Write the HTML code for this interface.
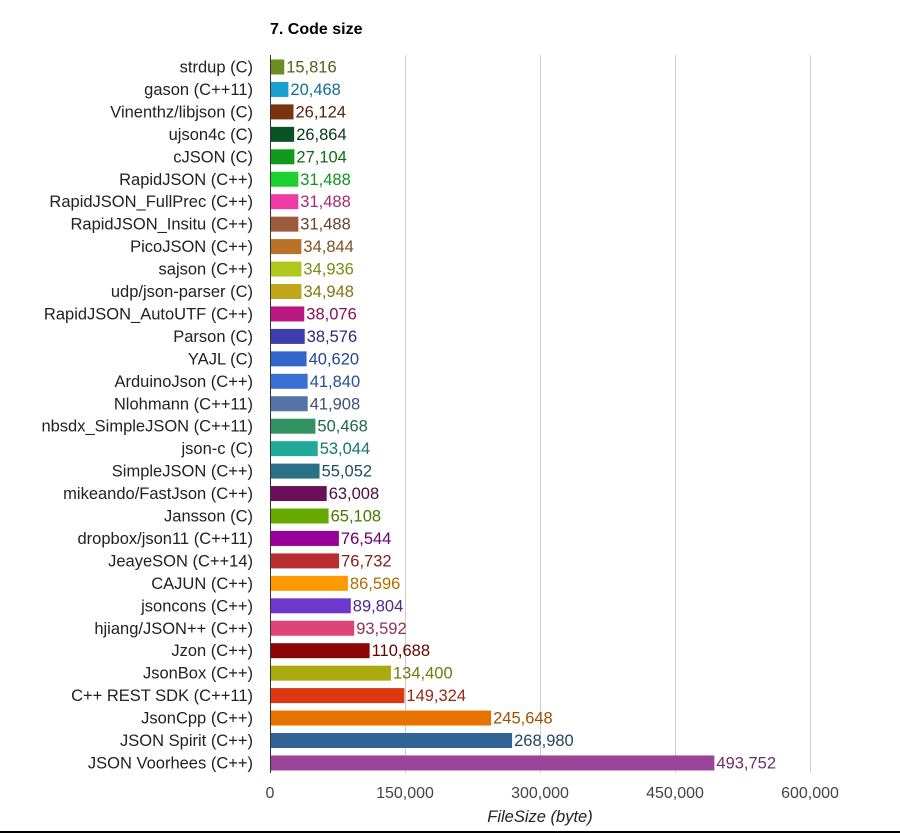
<!DOCTYPE html><html><head><meta charset="utf-8"><style>html,body{margin:0;padding:0;background:#fff}svg{display:block}text{font-family:"Liberation Sans",Arial,sans-serif}.l{font-size:16.5px;fill:#222;text-anchor:end}.v{font-size:16.5px;filter:brightness(0.7)}</style></head><body>
<svg width="900" height="833" viewBox="0 0 900 833">
<text x="270" y="34" font-size="16" font-weight="bold" fill="#000">7. Code size</text>
<g stroke="#cccccc" stroke-width="1">
<line x1="405.5" y1="55" x2="405.5" y2="773"/><line x1="540.5" y1="55" x2="540.5" y2="773"/><line x1="675.5" y1="55" x2="675.5" y2="773"/><line x1="810.5" y1="55" x2="810.5" y2="773"/>
</g>
<g id="rows">
<g transform="translate(0,67)"><text class="l" x="253" y="5.5">strdup (C)</text><rect x="270" y="-7.5" width="14.23" height="15" fill="#6b8e23"/><text class="v" x="286.2" y="5.5" fill="#6b8e23">15,816</text></g>
<g transform="translate(0,89.45)"><text class="l" x="253" y="5.5">gason (C++11)</text><rect x="270" y="-7.5" width="18.42" height="15" fill="#1a9fd0"/><text class="v" x="290.4" y="5.5" fill="#1a9fd0">20,468</text></g>
<g transform="translate(0,111.9)"><text class="l" x="253" y="5.5">Vinenthz/libjson (C)</text><rect x="270" y="-7.5" width="23.51" height="15" fill="#7a3311"/><text class="v" x="295.5" y="5.5" fill="#7a3311">26,124</text></g>
<g transform="translate(0,134.35)"><text class="l" x="253" y="5.5">ujson4c (C)</text><rect x="270" y="-7.5" width="24.18" height="15" fill="#0b5222"/><text class="v" x="296.2" y="5.5" fill="#0b5222">26,864</text></g>
<g transform="translate(0,156.8)"><text class="l" x="253" y="5.5">cJSON (C)</text><rect x="270" y="-7.5" width="24.39" height="15" fill="#119b1c"/><text class="v" x="296.4" y="5.5" fill="#119b1c">27,104</text></g>
<g transform="translate(0,179.25)"><text class="l" x="253" y="5.5">RapidJSON (C++)</text><rect x="270" y="-7.5" width="28.34" height="15" fill="#1cd12e"/><text class="v" x="300.3" y="5.5" fill="#1cd12e">31,488</text></g>
<g transform="translate(0,201.7)"><text class="l" x="253" y="5.5">RapidJSON_FullPrec (C++)</text><rect x="270" y="-7.5" width="28.34" height="15" fill="#ef3aa6"/><text class="v" x="300.3" y="5.5" fill="#ef3aa6">31,488</text></g>
<g transform="translate(0,224.15)"><text class="l" x="253" y="5.5">RapidJSON_Insitu (C++)</text><rect x="270" y="-7.5" width="28.34" height="15" fill="#9c5b3c"/><text class="v" x="300.3" y="5.5" fill="#9c5b3c">31,488</text></g>
<g transform="translate(0,246.6)"><text class="l" x="253" y="5.5">PicoJSON (C++)</text><rect x="270" y="-7.5" width="31.36" height="15" fill="#b87329"/><text class="v" x="303.4" y="5.5" fill="#b87329">34,844</text></g>
<g transform="translate(0,269.05)"><text class="l" x="253" y="5.5">sajson (C++)</text><rect x="270" y="-7.5" width="31.44" height="15" fill="#b0c81e"/><text class="v" x="303.4" y="5.5" fill="#b0c81e">34,936</text></g>
<g transform="translate(0,291.5)"><text class="l" x="253" y="5.5">udp/json-parser (C)</text><rect x="270" y="-7.5" width="31.45" height="15" fill="#c0a71a"/><text class="v" x="303.5" y="5.5" fill="#c0a71a">34,948</text></g>
<g transform="translate(0,313.95)"><text class="l" x="253" y="5.5">RapidJSON_AutoUTF (C++)</text><rect x="270" y="-7.5" width="34.27" height="15" fill="#b91883"/><text class="v" x="306.3" y="5.5" fill="#b91883">38,076</text></g>
<g transform="translate(0,336.4)"><text class="l" x="253" y="5.5">Parson (C)</text><rect x="270" y="-7.5" width="34.72" height="15" fill="#3b3eac"/><text class="v" x="306.7" y="5.5" fill="#3b3eac">38,576</text></g>
<g transform="translate(0,358.85)"><text class="l" x="253" y="5.5">YAJL (C)</text><rect x="270" y="-7.5" width="36.56" height="15" fill="#3366cc"/><text class="v" x="308.6" y="5.5" fill="#3366cc">40,620</text></g>
<g transform="translate(0,381.3)"><text class="l" x="253" y="5.5">ArduinoJson (C++)</text><rect x="270" y="-7.5" width="37.66" height="15" fill="#3a6fd6"/><text class="v" x="309.7" y="5.5" fill="#3a6fd6">41,840</text></g>
<g transform="translate(0,403.75)"><text class="l" x="253" y="5.5">Nlohmann (C++11)</text><rect x="270" y="-7.5" width="37.72" height="15" fill="#5574a6"/><text class="v" x="309.7" y="5.5" fill="#5574a6">41,908</text></g>
<g transform="translate(0,426.2)"><text class="l" x="253" y="5.5">nbsdx_SimpleJSON (C++11)</text><rect x="270" y="-7.5" width="45.42" height="15" fill="#329262"/><text class="v" x="317.4" y="5.5" fill="#329262">50,468</text></g>
<g transform="translate(0,448.65)"><text class="l" x="253" y="5.5">json-c (C)</text><rect x="270" y="-7.5" width="47.74" height="15" fill="#22aa99"/><text class="v" x="319.7" y="5.5" fill="#22aa99">53,044</text></g>
<g transform="translate(0,471.1)"><text class="l" x="253" y="5.5">SimpleJSON (C++)</text><rect x="270" y="-7.5" width="49.55" height="15" fill="#2a7086"/><text class="v" x="321.6" y="5.5" fill="#2a7086">55,052</text></g>
<g transform="translate(0,493.55)"><text class="l" x="253" y="5.5">mikeando/FastJson (C++)</text><rect x="270" y="-7.5" width="56.71" height="15" fill="#6b1058"/><text class="v" x="328.7" y="5.5" fill="#6b1058">63,008</text></g>
<g transform="translate(0,516)"><text class="l" x="253" y="5.5">Jansson (C)</text><rect x="270" y="-7.5" width="58.6" height="15" fill="#66aa00"/><text class="v" x="330.6" y="5.5" fill="#66aa00">65,108</text></g>
<g transform="translate(0,538.45)"><text class="l" x="253" y="5.5">dropbox/json11 (C++11)</text><rect x="270" y="-7.5" width="68.89" height="15" fill="#990099"/><text class="v" x="340.9" y="5.5" fill="#990099">76,544</text></g>
<g transform="translate(0,560.9)"><text class="l" x="253" y="5.5">JeayeSON (C++14)</text><rect x="270" y="-7.5" width="69.06" height="15" fill="#b82e2e"/><text class="v" x="341.1" y="5.5" fill="#b82e2e">76,732</text></g>
<g transform="translate(0,583.35)"><text class="l" x="253" y="5.5">CAJUN (C++)</text><rect x="270" y="-7.5" width="77.94" height="15" fill="#ff9900"/><text class="v" x="349.9" y="5.5" fill="#ff9900">86,596</text></g>
<g transform="translate(0,605.8)"><text class="l" x="253" y="5.5">jsoncons (C++)</text><rect x="270" y="-7.5" width="80.82" height="15" fill="#6f38cc"/><text class="v" x="352.8" y="5.5" fill="#6f38cc">89,804</text></g>
<g transform="translate(0,628.25)"><text class="l" x="253" y="5.5">hjiang/JSON++ (C++)</text><rect x="270" y="-7.5" width="84.23" height="15" fill="#dd4477"/><text class="v" x="356.2" y="5.5" fill="#dd4477">93,592</text></g>
<g transform="translate(0,650.7)"><text class="l" x="253" y="5.5">Jzon (C++)</text><rect x="270" y="-7.5" width="99.62" height="15" fill="#8b0707"/><text class="v" x="371.6" y="5.5" fill="#8b0707">110,688</text></g>
<g transform="translate(0,673.15)"><text class="l" x="253" y="5.5">JsonBox (C++)</text><rect x="270" y="-7.5" width="120.96" height="15" fill="#aaaa11"/><text class="v" x="393" y="5.5" fill="#aaaa11">134,400</text></g>
<g transform="translate(0,695.6)"><text class="l" x="253" y="5.5">C++ REST SDK (C++11)</text><rect x="270" y="-7.5" width="134.39" height="15" fill="#dc3912"/><text class="v" x="406.4" y="5.5" fill="#dc3912">149,324</text></g>
<g transform="translate(0,718.05)"><text class="l" x="253" y="5.5">JsonCpp (C++)</text><rect x="270" y="-7.5" width="221.08" height="15" fill="#e67300"/><text class="v" x="493.1" y="5.5" fill="#e67300">245,648</text></g>
<g transform="translate(0,740.5)"><text class="l" x="253" y="5.5">JSON Spirit (C++)</text><rect x="270" y="-7.5" width="242.08" height="15" fill="#316395"/><text class="v" x="514.1" y="5.5" fill="#316395">268,980</text></g>
<g transform="translate(0,762.95)"><text class="l" x="253" y="5.5">JSON Voorhees (C++)</text><rect x="270" y="-7.5" width="444.38" height="15" fill="#994499"/><text class="v" x="716.4" y="5.5" fill="#994499">493,752</text></g>
</g>
<line x1="270.5" y1="55" x2="270.5" y2="773" stroke="#333" stroke-width="1"/>
<g font-size="16" fill="#444" text-anchor="middle">
<text x="270" y="798">0</text><text x="405" y="798">150,000</text><text x="540" y="798">300,000</text><text x="675" y="798">450,000</text><text x="810" y="798">600,000</text>
</g>
<text x="540" y="822" font-size="16.5" font-style="italic" fill="#222" text-anchor="middle">FileSize (byte)</text>
<rect x="0" y="831" width="900" height="2" fill="#000"/>
</svg>
</body></html>
